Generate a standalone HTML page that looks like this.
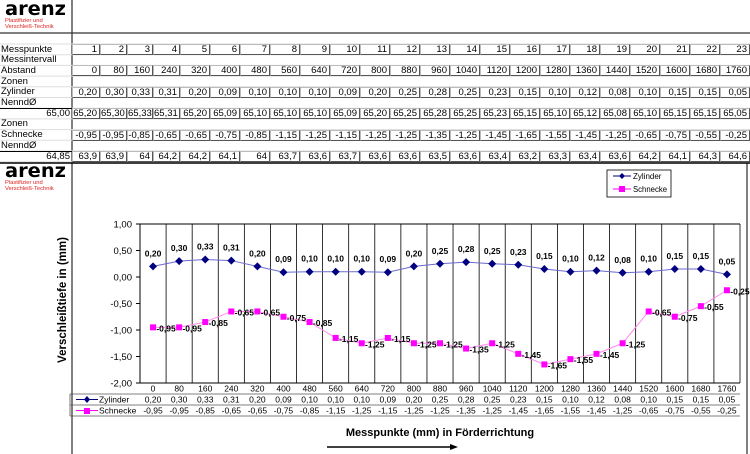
<!DOCTYPE html>
<html><head><meta charset="utf-8">
<style>
body{margin:0;background:#fff;font-family:"Liberation Sans",Arial,sans-serif;}
#root{position:relative;width:750px;height:454px;overflow:hidden;background:#fff;}
.c{position:absolute;font-size:9.5px;line-height:10px;white-space:nowrap;color:#000;}
.v{text-align:right;padding-right:2px;box-sizing:border-box;border:1px solid #555;border-left-color:#bbb;border-top-color:#bbb;height:11px;}
</style></head><body>
<div id="root">
<svg id="svg" width="750" height="454" style="position:absolute;left:0;top:0"></svg>
</div>
<script>
const categories=[0,80,160,240,320,400,480,560,640,720,800,880,960,1040,1120,1200,1280,1360,1440,1520,1600,1680,1760];
const zylinder=[0.20,0.30,0.33,0.31,0.20,0.09,0.10,0.10,0.10,0.09,0.20,0.25,0.28,0.25,0.23,0.15,0.10,0.12,0.08,0.10,0.15,0.15,0.05];
const schnecke=[-0.95,-0.95,-0.85,-0.65,-0.65,-0.75,-0.85,-1.15,-1.25,-1.15,-1.25,-1.25,-1.35,-1.25,-1.45,-1.65,-1.55,-1.45,-1.25,-0.65,-0.75,-0.55,-0.25];
const schneckeNenn=[63.9,63.9,64,64.2,64.2,64.1,64,63.7,63.6,63.7,63.6,63.6,63.5,63.6,63.4,63.2,63.3,63.4,63.6,64.2,64.1,64.3,64.6];
const yTicks=[1,0.5,0,-0.5,-1,-1.5,-2];
const fmt=v=>v.toFixed(2).replace('.',',');
const root=document.getElementById('root');
const svg=document.getElementById('svg');
const NS='http://www.w3.org/2000/svg';
function mk(t,a,p){const e=document.createElementNS(NS,t);for(const k in a)e.setAttribute(k,a[k]);(p||svg).appendChild(e);return e;}
function cell(x,y,w,txt,cls,name,extra){const d=document.createElement('div');d.className='c '+(cls||'');d.style.left=x+'px';d.style.top=y+'px';d.style.width=w+'px';d.textContent=txt;if(extra)Object.assign(d.style,extra);


root.appendChild(d);return d;}
function logo(y,name){
 let t=mk('text',{x:5,y:y,'font-size':19,'font-weight':'bold','font-family':'DejaVu Sans','textLength':61,'lengthAdjust':'spacingAndGlyphs'});t.textContent='arenz';
 
 t=mk('text',{x:5,y:y+7,'font-size':5.8,fill:'#e02020','font-family':'Liberation Sans'});t.textContent='Plastifizier und';
 
 t=mk('text',{x:5,y:y+13,'font-size':5.8,fill:'#e02020','font-family':'Liberation Sans'});t.textContent='Verschleiß-Technik';
 
}
logo(15,'arenz-logo-top');
logo(177,'arenz-logo-chart');
const colX=[72,100,127,153,180];for(let i=5;i<=23;i++)colX.push(180+(i-4)*30);
colX[23]=750;
mk('line',{x1:72,y1:0,x2:72,y2:454,stroke:'#000','stroke-width':1});
mk('line',{x1:0,y1:33,x2:750,y2:33,stroke:'#333','stroke-width':1.2});
const rowY=y=>44+y*10.7;
for(let r=0;r<12;r++)mk('line',{x1:0,y1:rowY(r),x2:750,y2:rowY(r),stroke:'#ddd','stroke-width':1});
const labels=['Messpunkte','Messintervall','Abstand','Zonen','Zylinder','NenndØ','','Zonen','Schnecke','NenndØ',''];
labels.forEach((l,r)=>{if(l)cell(1,rowY(r)+0.5,70,l,'','row-label-'+r);});
function valRow(r,vals,name){for(let i=0;i<23;i++){cell(colX[i],rowY(r),colX[i+1]-colX[i],vals[i],'v',name+'-'+(i+1));}}
valRow(0,categories.map((c,i)=>String(i+1)),'messpunkt');
valRow(2,categories.map(String),'abstand');
valRow(4,zylinder.map(fmt),'zylinder');
valRow(6,zylinder.map(v=>fmt(65+v)),'zylinder-nenn');
cell(0,rowY(6),72,'65,00','v','zylinder-base',{border:'none',borderTop:'1px solid #000'});
valRow(8,schnecke.map(fmt),'schnecke');
valRow(10,schneckeNenn.map(v=>String(v).replace('.',',')),'schnecke-nenn');
cell(0,rowY(10),72,'64,85','v','schnecke-base',{border:'none',borderTop:'1px solid #000'});
mk('line',{x1:0,y1:163,x2:750,y2:163,stroke:'#000','stroke-width':1.5});
mk('line',{x1:747,y1:163,x2:747,y2:454,stroke:'#000','stroke-width':1});
const L=140,R=740,T=224,B=383;
const bw=(R-L)/categories.length;
const xs=i=>L+bw*(i+0.5);
const ys=v=>277-v*53;
mk('line',{x1:L,y1:T,x2:R,y2:T,stroke:'#000'});
for(let i=0;i<=categories.length;i++){const l=mk('line',{x1:L+bw*i,y1:T,x2:L+bw*i,y2:B,stroke:'#000','stroke-width':0.8});}
mk('line',{x1:L,y1:T,x2:L,y2:B,stroke:'#000'});
yTicks.forEach(t=>{mk('line',{x1:L-4,y1:ys(t),x2:L,y2:ys(t),stroke:'#000'});const tx=mk('text',{x:L-8,y:ys(t)+3.5,'text-anchor':'end','font-size':9.5,'font-family':'Liberation Sans'});tx.textContent=fmt(t);});
const yt=mk('text',{x:0,y:0,transform:'translate(66,300) rotate(-90)','text-anchor':'middle','font-size':11.5,'font-weight':'bold','font-family':'Liberation Sans'});yt.textContent='Verschleißtiefe in (mm)';

function series(vals,lineCol,markCol,name,square,lblFn){
 const p=mk('polyline',{points:vals.map((v,i)=>xs(i)+','+ys(v)).join(' '),fill:'none',stroke:lineCol,'stroke-width':1});
 
 vals.forEach((v,i)=>{let m;
  if(square)m=mk('rect',{x:xs(i)-3,y:ys(v)-3,width:6,height:6,fill:markCol});
  else m=mk('polygon',{points:`${xs(i)},${ys(v)-4} ${xs(i)+4},${ys(v)} ${xs(i)},${ys(v)+4} ${xs(i)-4},${ys(v)}`,fill:markCol});
  
  const [lx,ly]=lblFn(i,v);
  const t=mk('text',{x:lx,y:ly,'text-anchor':'middle','font-size':8.5,'font-weight':'bold','font-family':'Liberation Sans'});t.textContent=fmt(v);
  });
}
series(zylinder,'#6a6ad0','#000080','zylinder',false,(i,v)=>[xs(i),ys(v)-10]);
series(schnecke,'#ff88ee','#ff00ff','schnecke',true,(i,v)=>[xs(i)+13,ys(v)+4]);
mk('line',{x1:L,y1:B,x2:R,y2:B,stroke:'#000'});
[B+11,B+22,B+33].forEach(y=>mk('line',{x1:70,y1:y,x2:R,y2:y,stroke:'#555','stroke-width':0.8}));
mk('line',{x1:70,y1:B+11,x2:70,y2:B+33,stroke:'#555','stroke-width':0.8});
categories.forEach((c,i)=>{
 [[c,B+8.5],[fmt(zylinder[i]),B+19.5],[fmt(schnecke[i]),B+30.5]].forEach(([s,y],k)=>{const t=mk('text',{x:xs(i),y:y,'text-anchor':'middle','font-size':8.5,'font-family':'Liberation Sans'});t.textContent=s;});
});
mk('line',{x1:76,y1:B+16.5,x2:98,y2:B+16.5,stroke:'#000080'});mk('polygon',{points:'87,396 90,399.5 87,403 84,399.5',fill:'#000080'});
mk('line',{x1:76,y1:B+27.5,x2:98,y2:B+27.5,stroke:'#ff00ff'});mk('rect',{x:84,y:B+25,width:6,height:6,fill:'#ff00ff'});
let t=mk('text',{x:99,y:B+19.5,'font-size':8.5,'font-family':'Liberation Sans'});t.textContent='Zylinder';
t=mk('text',{x:99,y:B+30.5,'font-size':8.5,'font-family':'Liberation Sans'});t.textContent='Schnecke';
t=mk('text',{x:440,y:436,'text-anchor':'middle','font-size':11,'font-weight':'bold','font-family':'Liberation Sans'});t.textContent='Messpunkte (mm)  in Förderrichtung';
mk('line',{x1:327,y1:447,x2:452,y2:447,stroke:'#000','stroke-width':1.5});
mk('polygon',{points:'458,447 450,444 450,450',fill:'#000'});
const lg=mk('rect',{x:607,y:170,width:64,height:27,fill:'#fff',stroke:'#000','stroke-width':0.8});
mk('line',{x1:613,y1:176,x2:631,y2:176,stroke:'#000080'});mk('polygon',{points:'622,173 625,176 622,179 619,176',fill:'#000080'});
mk('line',{x1:613,y1:189,x2:631,y2:189,stroke:'#ff00ff'});mk('rect',{x:619,y:186,width:6,height:6,fill:'#ff00ff'});
t=mk('text',{x:633,y:179,'font-size':8,'font-family':'Liberation Sans'});t.textContent='Zylinder';
t=mk('text',{x:633,y:192,'font-size':8,'font-family':'Liberation Sans','textLength':34,'lengthAdjust':'spacingAndGlyphs'});t.textContent='Schnecke';
</script>
</body></html>
